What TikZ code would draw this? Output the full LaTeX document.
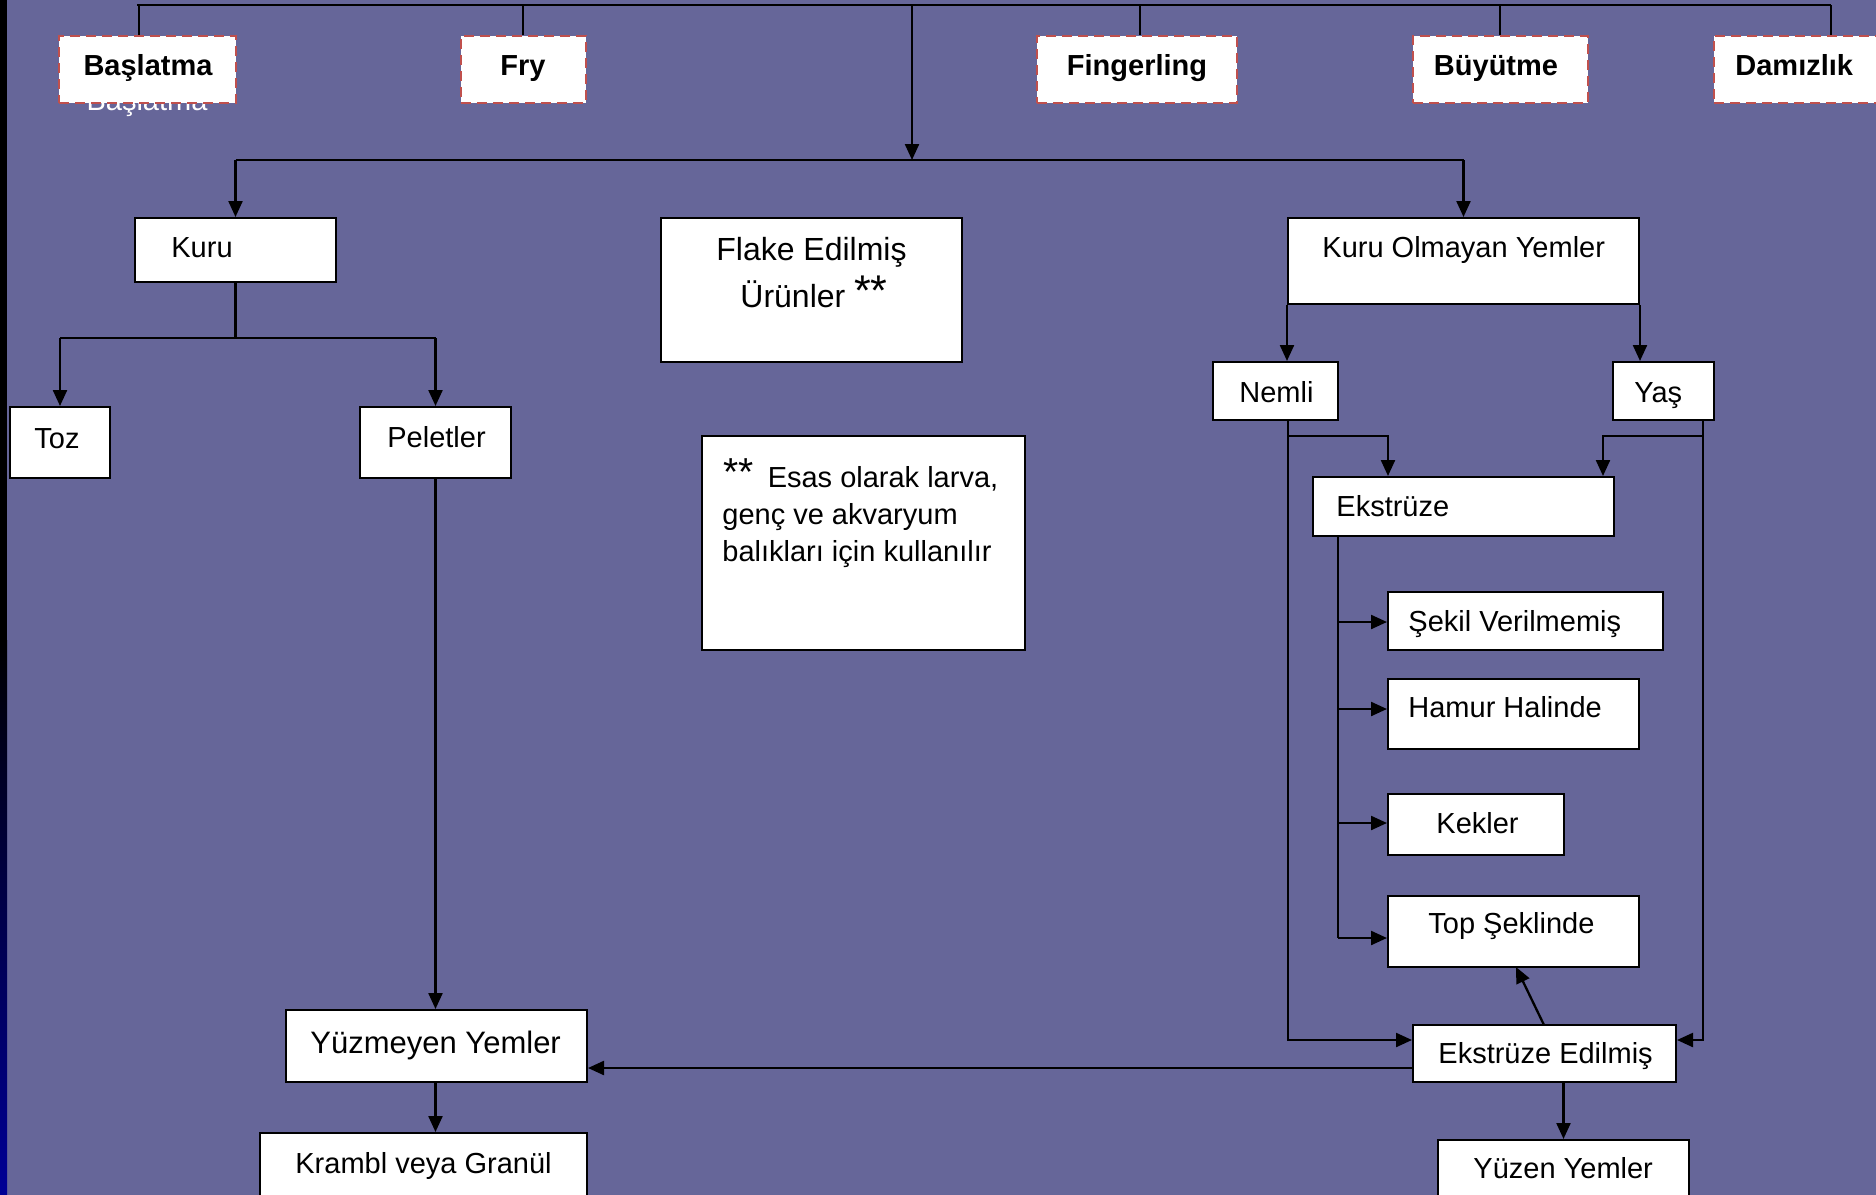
\documentclass[tikz,border=0pt]{standalone}
\usepackage{fontspec}
\setmainfont{Liberation Sans}
\usetikzlibrary{arrows.meta,fit}
\definecolor{bgc}{RGB}{102,102,153}
\definecolor{dashred}{RGB}{192,80,77}
\definecolor{stripblue}{RGB}{0,0,150}
\begin{document}
\begin{tikzpicture}[x=0.5pt,y=-0.5pt,
  ln/.style={line width=1.15pt, draw=black},
  arr/.style={ln, -{Triangle[length=8pt,width=7pt]}},
  bx/.style={draw=black, fill=white, line width=1pt, inner sep=0pt, rectangle},
  hbx/.style={draw=dashred, fill=white, line width=1.3pt, dash pattern=on 5pt off 3pt, inner sep=0pt, rectangle},
  tx/.style={inner sep=0pt, anchor=base west, font=\fontsize{14.5pt}{17pt}\selectfont},
  htx/.style={inner sep=0pt, anchor=base, font=\fontsize{14.5pt}{17pt}\selectfont\bfseries},
]
\useasboundingbox (0,0) rectangle (1876,1195);
\clip (0,0) rectangle (1876,1195);
\fill[bgc] (0,0) rectangle (1876,1195);
\fill[black] (0,0) rectangle (7,640);
\shade[top color=black, bottom color=stripblue] (0,640) rectangle (7,1195);

% ---------- header row ----------
\coordinate (t0) at (137,5);
\coordinate (t1) at (139,5);
\coordinate (t2) at (523,5);
\coordinate (tm) at (912,5);
\coordinate (t3) at (1140,5);
\coordinate (t4) at (1500,5);
\coordinate (t5) at (1831,5);
\draw[line width=1.2pt] (t0) -- (t5);

\node[inner sep=0pt, anchor=base, text=white, font=\fontsize{14.5pt}{17pt}\selectfont] (ghost) at (147,110) {Başlatma};

\node[hbx, fit={(59,36) (236,103)}] (hb1) {};
\node[hbx, fit={(461,36) (586,103)}] (hb2) {};
\node[hbx, fit={(1037,36) (1237,103)}] (hb3) {};
\node[hbx, fit={(1413,36) (1588,103)}] (hb4) {};
\node[hbx, fit={(1714,36) (1910,103)}] (hb5) {};
\node[htx] (hb1t) at (148,75) {Başlatma};
\node[htx] (hb2t) at (523,75) {Fry};
\node[htx] (hb3t) at (1137,75) {Fingerling};
\node[htx] (hb4t) at (1496,75) {Büyütme};
\node[htx, anchor=base west] (hb5t) at (1735,75) {Damızlık};

\draw[line width=1pt] (t1) -- (t1 |- hb1.north);
\draw[line width=1pt] (t2) -- (t2 |- hb2.north);
\draw[line width=1pt] (t3) -- (t3 |- hb3.north);
\draw[line width=1pt] (t4) -- (t4 |- hb4.north);
\draw[line width=1pt] (t5) -- (t5 |- hb5.north);

% ---------- boxes ----------
\node[bx, fit={(135,218) (336,282)}] (kuru) {};
\node[bx, fit={(10,407) (110,478)}] (toz) {};
\node[bx, fit={(360,407) (511,478)}] (pel) {};
\node[bx, fit={(286,1010) (587,1082)}] (yuz) {};
\node[bx, fit={(260,1133) (587,1240)}] (kr) {};
\node[bx, fit={(661,218) (962,362)}] (fl) {};
\node[bx, fit={(702,436) (1025,650)}] (note) {};
\node[bx, fit={(1288,218) (1639,304)}] (ko) {};
\node[bx, fit={(1213,362) (1338,420)}] (nem) {};
\node[bx, fit={(1613,362) (1714,420)}] (yas) {};
\node[bx, fit={(1313,477) (1614,536)}] (ek) {};
\node[bx, fit={(1388,592) (1663,650)}] (sek) {};
\node[bx, fit={(1388,679) (1639,749)}] (ham) {};
\node[bx, fit={(1388,794) (1564,855)}] (kek) {};
\node[bx, fit={(1388,896) (1639,967)}] (tops) {};
\node[bx, fit={(1413,1025) (1676,1082)}] (ee) {};
\node[bx, fit={(1438,1140) (1689,1240)}] (yz) {};

% ---------- texts ----------
\node[tx] (kurut) at (171,257) {Kuru};
\node[tx] (tozt) at (34,448) {Toz};
\node[tx] (pelt) at (387,447) {Peletler};
\node[tx, font=\fontsize{15.5pt}{18pt}\selectfont] (yuzt) at (310,1053) {Yüzmeyen Yemler};
\node[tx] (krt) at (295,1173) {Krambl veya Granül};
\node[tx, anchor=base, font=\fontsize{16pt}{19pt}\selectfont] (flt1) at (811.5,260) {Flake Edilmiş};
\node[tx, font=\fontsize{16pt}{19pt}\selectfont] (flt2) at (740,307) {Ürünler \raisebox{0.8pt}{\fontsize{21.5pt}{22pt}\selectfont **}};
\node[tx] (nt1) at (723,487) {\raisebox{1pt}{\fontsize{19.5pt}{20pt}\selectfont **}\kern7pt Esas olarak larva,};
\node[tx] (nt2) at (722,524) {genç ve akvaryum};
\node[tx] (nt3) at (722,561) {balıkları için kullanılır};
\node[tx] (kot) at (1322,257) {Kuru Olmayan Yemler};
\node[tx] (nemt) at (1239,402) {Nemli};
\node[tx] (yast) at (1634,402) {Yaş};
\node[tx] (ekt) at (1336,516) {Ekstrüze};
\node[tx] (sekt) at (1408,631) {Şekil Verilmemiş};
\node[tx] (hamt) at (1408,717) {Hamur Halinde};
\node[tx] (kekt) at (1436,833) {Kekler};
\node[tx] (topt) at (1428,933) {Top Şeklinde};
\node[tx] (eet) at (1438,1063) {Ekstrüze Edilmiş};
\node[tx] (yzt) at (1473,1178) {Yüzen Yemler};

% ---------- connectors ----------
\coordinate (hj) at (912,160);
\draw[arr] (tm) -- (hj);
\draw[ln] (kuru.north |- hj) -- (ko.north |- hj);
\draw[arr] (kuru.north |- hj) -- (kuru.north);
\draw[arr] (ko.north |- hj) -- (ko.north);

\coordinate (kj) at (235.5,338);
\draw[ln] (kuru.south) -- (kj);
\draw[ln] (toz.north |- kj) -- (pel.north |- kj);
\draw[arr] (toz.north |- kj) -- (toz.north);
\draw[arr] (pel.north |- kj) -- (pel.north);

\draw[arr] (pel.south) -- (pel.south |- yuz.north);
\draw[arr] (pel.south |- yuz.south) -- (pel.south |- kr.north);

\draw[arr] (ko.south west) -- (ko.south west |- nem.north);
\draw[arr] (ko.south east) -- (ko.south east |- yas.north);

% Nemli branch
\coordinate (nv) at (1288,1040);
\coordinate (nb) at (1288,436);
\coordinate (nbe) at (1388,436);
\draw[arr] (nem.south -| nv) -- (nv) -- (nv -| ee.west);
\draw[arr] (nb) -- (nbe) -- (nbe |- ek.north);
% Yas branch
\coordinate (yv) at (1703,1040);
\coordinate (yb) at (1703,436);
\coordinate (ybe) at (1603,436);
\draw[arr] (yas.south -| yv) -- (yv) -- (yv -| ee.east);
\draw[arr] (yb) -- (ybe) -- (ybe |- ek.north);

% Ekstruze branches
\coordinate (e1) at (1338,622);
\coordinate (e2) at (1338,709);
\coordinate (e3) at (1338,823);
\coordinate (e4) at (1338,938);
\draw[ln] (ek.south -| e1) -- (e4);
\draw[arr] (e1) -- (e1 -| sek.west);
\draw[arr] (e2) -- (e2 -| ham.west);
\draw[arr] (e3) -- (e3 -| kek.west);
\draw[arr] (e4) -- (e4 -| tops.west);

% Ekstruze Edilmis
\coordinate (d1) at (1544,1025);
\coordinate (d2) at (1516,967);
\draw[arr] (d1) -- (d2);
\coordinate (h1) at (1413,1068);
\draw[arr] (h1) -- (h1 -| yuz.east);
\draw[arr] (yz.north |- ee.south) -- (yz.north);
\end{tikzpicture}
\end{document}
